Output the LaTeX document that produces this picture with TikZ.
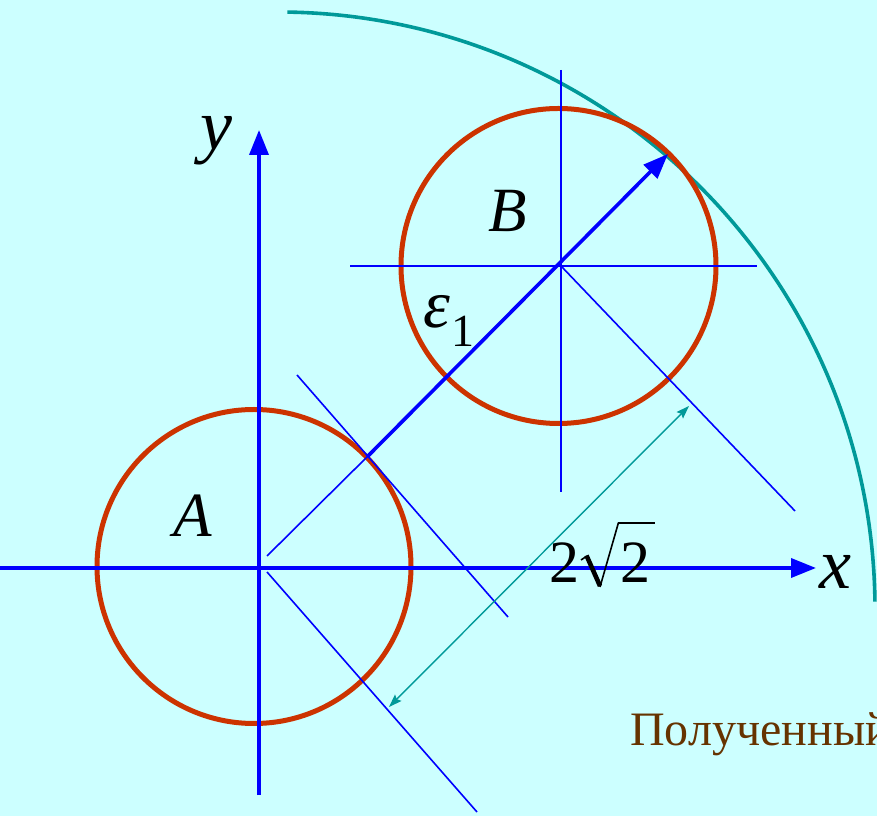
\documentclass[tikz,border=0pt]{standalone}
\usepackage{fontspec}
\setmainfont{Liberation Serif}
\usetikzlibrary{arrows.meta}
\definecolor{bgcyan}{HTML}{CCFFFF}
\definecolor{axisblue}{HTML}{0000FF}
\definecolor{ringred}{HTML}{CC3300}
\definecolor{tealc}{HTML}{009999}
\definecolor{brownc}{HTML}{663300}
\tikzset{
  axisline/.style={axisblue, line width=3.6pt, -{Triangle[length=25pt,width=19pt]}},
  thinblue/.style={axisblue, line width=1.6pt},
  ring/.style={ringred, line width=5pt},
  bigarc/.style={tealc, line width=3.6pt},
  dimline/.style={tealc, line width=1.4pt, {Stealth[length=13pt,width=9pt,inset=2pt]}-{Stealth[length=13pt,width=9pt,inset=2pt]}},
  mathlbl/.style={inner sep=0pt, font=\fontsize{72}{72}\selectfont\itshape},
  digit/.style={anchor=base west, inner sep=0pt, font=\fontsize{60}{60}\selectfont},
}
\begin{document}
\begin{tikzpicture}[x=1pt,y=1pt]
\useasboundingbox (0,0) rectangle (877,816);
\clip (0,0) rectangle (877,816);
\fill[bgcyan] (0,0) rectangle (877,816);

% key points
\coordinate (O) at (259,248);
\coordinate (Ac) at (254,249.5);
\coordinate (Bc) at (561,550);
\coordinate (Bcirc) at (558.5,550);
\coordinate (xs) at (0,248);
\coordinate (xe) at (816,248);
\coordinate (ys) at (259,21);
\coordinate (ye) at (259,686);
\coordinate (bh1) at (350,550);
\coordinate (bh2) at (757,550);
\coordinate (bv1) at (561,746);
\coordinate (bv2) at (561,324);
\coordinate (d0) at (267,260);
\coordinate (P) at (367,359);
\coordinate (T) at (668,662);
\coordinate (l1a) at (297,441);
\coordinate (l1b) at (508,199);
\coordinate (l2a) at (267,244);
\coordinate (l2b) at (477,4);
\coordinate (l3b) at (795,305);
\coordinate (da) at (389,109);
\coordinate (db) at (689,410);
\coordinate (arcC) at (278,207);

% big arc
\draw[bigarc] (arcC) ++(89.1:597) arc[start angle=89.1, end angle=0.7, radius=597];

% circles
\draw[ring] (Ac) circle[radius=157];
\draw[ring] (Bcirc) circle[radius=157.5];

% thin construction lines
\draw[thinblue] (bh1) -- (bh2);
\draw[thinblue] (bv1) -- (bv2);
\draw[thinblue] (l1a) -- (l1b);
\draw[thinblue] (l2a) -- (l2b);
\draw[thinblue] (Bc) -- (l3b);
\draw[thinblue] (d0) -- (P);

% axes
\draw[axisline] (xs) -- (xe);
\draw[axisline] (ys) -- (ye);

% epsilon arrow
\draw[axisline] (P) -- (T);

% dimension
\draw[dimline] (da) -- (db);

% labels
\node[mathlbl] (ylbl) at (216,675) {y};
\node[mathlbl] (xlbl) at (835,244) {x};
\node[mathlbl, font=\fontsize{63}{63}\selectfont\itshape] (Albl) at (193,300) {A};
\node[mathlbl, font=\fontsize{63}{63}\selectfont\itshape] (Blbl) at (508,605) {B};
\node[inner sep=0pt] (eps) at (449,495) {\fontsize{68}{68}\selectfont\itshape ε\kern1pt\raisebox{-19pt}{\fontsize{46}{46}\selectfont\upshape 1}};

% 2 sqrt 2
\node[digit] (two1) at (549,233) {2};
\node[digit] (two2) at (620,233) {2};
\draw[black, line width=1.6pt, line join=miter] (581,256) -- (587,260);
\draw[black, line width=4.6pt, line cap=butt] (586.5,260.5) -- (600,230);
\draw[black, line width=1.6pt] (600,229) -- (618.5,293.5);
\draw[black, line width=2.6pt] (618,293) -- (655,293);

\node[anchor=base west, inner sep=0pt, text=brownc, font=\fontsize{48}{48}\selectfont] (cap) at (630,71) {Полученный};
\end{tikzpicture}
\end{document}
